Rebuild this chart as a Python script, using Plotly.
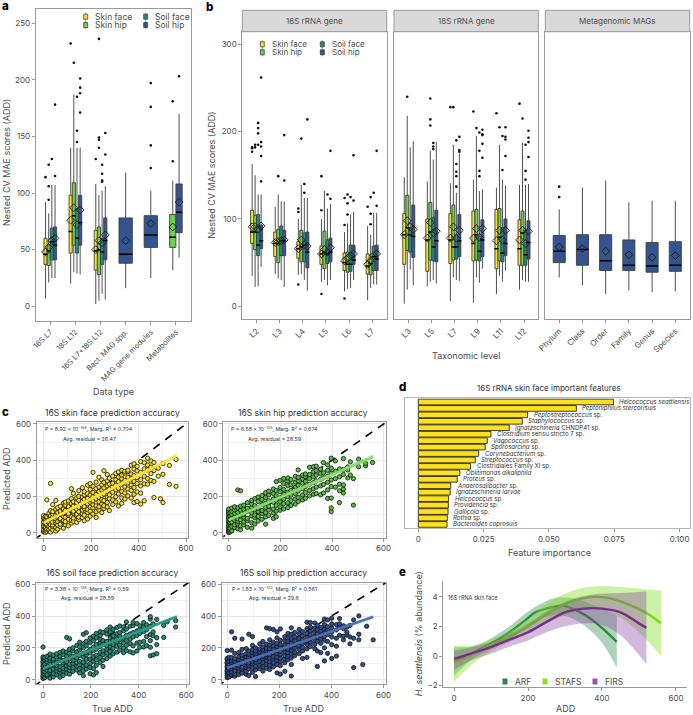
import plotly.graph_objects as go

W, H = 693, 715
FONT = "Inter"
GREY = "#4d4d4d"
FRAME = "#9a9a9a"
C_FACE, C_HIP, C_SFACE, C_SHIP = "#fde11f", "#6fcf4e", "#1f8f78", "#34548f"

# ---------- panel a ----------
a_labels = ["16S L7", "18S L12", "16S L7+18S L12", "Bact. MAG spp.", "MAG gene modules", "Metabolites"]
a_face_q1 = [37, 47, 32]; a_face_med = [46, 66, 49]; a_face_q3 = [60, 98, 67]
a_face_lo = [7, 20, 2]; a_face_hi = [92, 140, 108]; a_face_mean = [48, 76, 50]
a_face_out = [[114], [232], [130]]
a_hip_q1 = [36, 54, 28]; a_hip_med = [49, 80, 50]; a_hip_q3 = [54, 109, 70]
a_hip_lo = [21, 30, 5]; a_hip_hi = [82, 187, 98]; a_hip_mean = [52, 87, 58]
a_hip_out = [[94, 106, 125], [215], [140, 147, 149, 236]]
a_sface_q1 = [41, 47, 37]; a_sface_med = [57, 60, 48]; a_sface_q3 = [69, 86, 60]
a_sface_lo = [25, 29, 11]; a_sface_hi = [107, 140, 102]; a_sface_mean = [58, 72, 56]
a_sface_out = [[130], [145, 155, 185], [110, 111, 117, 125]]
a_ship_q1 = [41, 54, 41]; a_ship_med = [54, 74, 58]; a_ship_q3 = [70, 98, 78]
a_ship_lo = [25, 28, 6]; a_ship_hi = [107, 140, 106]; a_ship_mean = [60, 85, 63]
a_ship_out = [[115, 178], [171, 188, 193, 201], [134, 153]]
a_single_q1 = [38, 52, 65]; a_single_med = [46, 63, 83]; a_single_q3 = [78, 80, 108]
a_single_lo = [16, 25, 43]; a_single_hi = [118, 102, 170]; a_single_mean = [58, 73, 92]
a_single_out = [[], [122, 142, 176, 197], [203]]
a_met_q1 = [52]; a_met_med = [61]; a_met_q3 = [81]; a_met_lo = [32]; a_met_hi = [111]
a_met_mean = [70]; a_met_out = [[128, 181]]

# ---------- panel b, 16S rRNA gene ----------
b16_labels = ["L2", "L3", "L4", "L5", "L6", "L7"]
b16_face_q1 = [72, 57, 55, 48, 41, 37]; b16_face_med = [85, 72, 66, 60, 50, 46]; b16_face_q3 = [110, 85, 74, 69, 61, 60]
b16_face_lo = [35, 37, 36, 28, 17, 7]; b16_face_hi = [163, 114, 100, 100, 85, 92]; b16_face_mean = [91, 73, 66, 60, 52, 48]
b16_face_out = [[177, 181, 182], [], [25, 108, 112], [14, 110, 149], [9, 93, 124], [114]]
b16_hip_q1 = [65, 50, 51, 43, 39, 36]; b16_hip_med = [85, 72, 68, 62, 48, 49]; b16_hip_q3 = [104, 88, 87, 86, 62, 54]
b16_hip_lo = [22, 32, 37, 30, 20, 21]; b16_hip_hi = [150, 128, 139, 132, 95, 82]; b16_hip_mean = [91, 74, 76, 65, 55, 52]
b16_hip_out = [[182, 185], [149], [192], [], [105, 118, 128], [94, 106, 125]]
b16_sface_q1 = [58, 58, 51, 49, 40, 41]; b16_sface_med = [70, 75, 70, 60, 48, 57]; b16_sface_q3 = [105, 92, 84, 76, 70, 69]
b16_sface_lo = [23, 30, 30, 24, 21, 25]; b16_sface_hi = [128, 120, 124, 112, 105, 107]; b16_sface_mean = [88, 75, 70, 62, 58, 58]
b16_sface_out = [[185, 198, 204, 210], [], [130, 140], [128], [125], [130]]
b16_ship_q1 = [66, 58, 44, 51, 48, 41]; b16_ship_med = [75, 75, 62, 62, 53, 54]; b16_ship_q3 = [93, 87, 85, 78, 70, 70]
b16_ship_lo = [45, 22, 18, 30, 30, 25]; b16_ship_hi = [128, 120, 124, 117, 108, 107]; b16_ship_mean = [92, 76, 69, 67, 60, 60]
b16_ship_out = [[143, 172, 183, 188, 262], [144, 196], [214], [123, 178], [121, 173], [115, 178]]

# ---------- panel b, 18S rRNA gene ----------
b18_labels = ["L3", "L5", "L7", "L9", "L11", "L12"]
b18_face_q1 = [48, 40, 49, 52, 43, 47]; b18_face_med = [82, 76, 76, 72, 66, 66]; b18_face_q3 = [106, 100, 106, 109, 111, 99]
b18_face_lo = [3, 23, 6, 4, 14, 19]; b18_face_hi = [148, 143, 141, 145, 136, 139]; b18_face_mean = [82, 78, 78, 78, 75, 76]
b18_face_out = [[], [], [228], [223], [221], [232]]
b18_hip_q1 = [64, 53, 53, 53, 52, 47]; b18_hip_med = [90, 85, 68, 82, 79, 84]; b18_hip_q3 = [127, 119, 116, 111, 112, 109]
b18_hip_lo = [19, 28, 33, 33, 35, 30]; b18_hip_hi = [218, 178, 185, 195, 185, 187]; b18_hip_mean = [98, 96, 91, 89, 87, 87]
b18_hip_out = [[240], [207, 214, 238], [228], [204], [205], [215]]
b18_sface_q1 = [62, 52, 54, 52, 51, 47]; b18_sface_med = [82, 68, 68, 63, 61, 59]; b18_sface_q3 = [90, 102, 82, 80, 90, 87]
b18_sface_lo = [42, 30, 30, 27, 28, 28]; b18_sface_hi = [182, 168, 130, 132, 145, 139]; b18_sface_mean = [91, 84, 78, 79, 76, 72]
b18_sface_out = [[], [180, 183, 187], [137, 149, 154, 163, 190], [149, 155, 178, 199], [156, 195], [145, 155, 185]]
b18_ship_q1 = [56, 51, 57, 57, 58, 54]; b18_ship_med = [80, 75, 75, 76, 72, 73]; b18_ship_q3 = [116, 110, 105, 99, 100, 98]
b18_ship_lo = [24, 26, 29, 43, 41, 28]; b18_ship_hi = [189, 188, 175, 134, 138, 140]; b18_ship_mean = [88, 86, 87, 89, 87, 86]
b18_ship_out = [[], [], [177, 179, 194], [170, 186, 196, 197, 202], [172, 191, 194, 205], [171, 188, 193, 201]]

# ---------- panel b, Metagenomic MAGs ----------
mag_labels = ["Phylum", "Class", "Order", "Family", "Genus", "Species"]
mag_q1 = [50, 47, 41, 41, 39, 40]; mag_med = [63, 65, 52, 47, 46, 47]; mag_q3 = [81, 82, 82, 76, 73, 74]
mag_lo = [33, 24, 14, 18, 16, 17]; mag_hi = [111, 136, 144, 119, 121, 121]; mag_mean = [68, 66, 63, 59, 56, 58]
mag_out = [[125, 137], [], [], [], [], []]

# ---------- panel c (true ADD columns, predicted ADD per column) ----------
c1_true = [0,7,13,22,29,38,51,59,70,83,91,104,117,125,139,148,163,171,185,196,208,221,233,245,254,268,277,291,304,315,329,342,355,369,381,394,409,424,438,452,465,483,492,503,530,558]
c1_pred = [[4,9,17,31,38,52,61,77,84,95],[2,14,26,33,49,66,71,90],[7,20,41,47,63,80,88,181],[11,18,36,54,59,73,99,107],[3,25,44,68,79,94,121,272],[15,34,42,58,87,103,116,155],[9,28,53,65,76,97,129,178],[20,41,62,83,92,111,138],[33,47,71,78,102,119,146],[25,58,66,90,108,127,131,163],[44,61,85,113,122,152,169],[38,74,96,105,137,143,175],[52,69,88,124,133,161,188,243],[63,81,109,118,147,171,217],[57,92,101,129,156,166,192],[72,86,115,140,178,201,232],[83,106,125,151,173,197,248],[66,97,134,144,184,209,226],[76,112,128,159,190,215,262],[91,119,141,168,181,207,239,271],[103,137,154,176,199,221,256,333],[84,116,148,186,211,243,279],[125,143,171,194,227,252,306],[111,158,182,205,236,264,291],[133,149,177,213,247,278,342],[142,167,196,229,258,285,321],[122,188,209,241,268,301],[156,181,223,254,273,312],[170,199,237,262,293,327],[147,214,245,281,307,335],[162,192,228,268,298,318,344],[186,219,252,289,329,339],[203,241,274,306,337,345],[191,233,263,296,323,373],[166,212,249,283,315,351,380],[172,225,271,304,341,366],[158,218,258,292,333,392],[176,269,311,352,386],[268,299,347,373,411],[288,326,362,396],[194,283,343,387],[312,356],[187],[166,322,381],[266,371],[256,404]]
c2_true = [0,5,12,23,35,46,58,72,89,101,114,129,143,155,173,184,199,213,229,241,258,269,286,297,313,328,339,356,367,383,397,413,429,444,461,471,483,503,530,557]
c2_pred = [[1,6,13,19,27,36,41,52,60,67,79,85,96,104,113,121,131],[4,16,24,47,56,73,91,109],[10,33,58,82,99,117,136],[28,44,69,88,107,126,143],[21,49,63,77,112,137,236],[17,38,71,94,124,147,231],[43,59,86,101,129,152],[30,66,79,118,135,166],[25,55,92,109,141,158,178],[48,83,97,127,149,188],[64,90,116,134,172,197],[74,105,122,155,183,205],[47,87,111,139,163,194,221],[96,125,146,176,209,229],[79,108,131,167,186,216,241],[88,119,151,179,204,233,282],[124,143,171,192,226,249,289],[131,160,185,211,238,271,299],[139,165,198,224,259,285,302],[150,177,207,233,264,293],[158,186,216,251,279,311],[172,195,229,262,287,306,346],[181,208,244,273,296,318],[190,221,255,283,309,324],[203,233,268,299,321,361],[212,242,276,308,337,364],[216,251,286,318,343,367],[209,258,295,327,351],[219,266,303,331,386],[189,236,278,312,344,374],[117,137,191,254,291,328,356,411],[251,298,339,396],[166,231,267,308,352],[219,241,264,321,349,409],[302,346,363],[318,391],[152,298],[364,406],[369,382],[387]]
c3_true = [0,7,17,29,43,57,71,84,99,111,125,141,153,169,181,197,211,223,239,251,267,281,293,309,321,337,349,365,377,393,405,421,433,449,461,476,505,520,555]
c3_pred = [[9,21,28,43,57,66,83,92,108,117,133,144,206],[14,37,52,71,99,126,139],[24,33,61,79,112,129,148],[11,45,58,87,103,121,136,162],[19,39,68,96,118,131,155],[31,54,74,91,109,143,163],[17,47,63,83,127,149,172],[28,56,72,105,122,158,181],[42,67,88,114,137,151,174,266],[36,60,79,98,133,167,192,257],[53,76,102,124,146,183,201],[62,89,108,139,159,176,216],[44,70,96,117,153,187,207,236],[27,57,86,109,143,165,202,226,286],[68,94,128,156,173,214,241,296],[39,78,103,131,169,191,233,263],[31,71,116,145,183,205,247,274],[46,91,126,154,193,221,263,291],[109,141,171,209,232,254,279,302],[84,123,158,182,224,246,297],[134,166,194,213,241,287,314],[149,178,206,231,262,301,331],[163,197,223,249,276,316],[174,211,237,259,289,328],[187,219,251,274,297,338],[171,201,233,263,308,332],[184,216,247,279,319,363],[176,227,256,288,336],[169,213,269,296,341,361],[181,231,279,307,353],[204,236,291,318,339],[206,241,302,331,359],[214,271,314,346],[151,204,246,284,336,381,396],[156,276,301,351],[164,221,264,379],[266,341],[364],[331,371]]
c4_true = [0,7,17,29,45,57,73,83,97,109,125,137,151,163,177,191,204,221,233,246,259,276,289,306,319,336,346,359,373,385,401,419,431,446,459,471,485,505,520,535,560]
c4_pred = [[14,26,41,53,62,77,86,103,111,126,135,184],[19,44,68,97,116,141],[31,49,72,84,107,121,139,186,301],[23,38,58,81,95,117,133,166,261],[33,56,73,88,112,128,146,171],[43,66,79,103,119,137,156,191,256],[35,54,76,94,109,127,147,164,196],[27,69,92,106,129,143,161,181,286],[47,77,101,114,136,153,172,189,216,271],[21,63,86,111,125,146,163,182,201],[71,94,117,138,156,174,193,226],[55,84,108,133,147,168,187,207,241],[73,102,121,144,159,183,199,224,326],[65,93,113,137,157,177,197,219,251,321],[81,109,132,148,171,192,213,237,316],[44,97,124,142,166,183,208,229,263,301],[36,89,116,136,161,179,202,223,249,319],[54,107,131,153,177,196,218,246,271],[126,149,173,193,217,241,263,291],[24,96,137,163,187,207,233,257,286,326],[151,174,201,221,247,269,297],[164,191,213,239,261,289,316],[134,181,203,229,253,277,303],[141,194,222,243,269,291,321,361],[209,236,257,283,307,331,359],[196,224,251,273,299,323,356],[84,181,241,267,289,315,341],[171,229,259,281,307,329],[119,201,249,273,297,319,346,381],[166,241,284,311,334,376],[134,221,269,299,326,351,386],[149,211,261,313,346],[279,331,351,384],[251,274,321,339],[281,299,331],[226,269,341],[77,261,376],[251,286,401],[96],[336],[251]]
fit_x = [0, 560]
c1_fit = [55, 423]; c1_fit_up = [63, 436]; c1_fit_lo = [47, 410]
c2_fit = [70, 420]; c2_fit_up = [78, 433]; c2_fit_lo = [62, 407]
c3_fit = [72, 397]; c3_fit_up = [80, 407]; c3_fit_lo = [64, 387]
c4_fit = [75, 395]; c4_fit_up = [83, 405]; c4_fit_lo = [67, 385]
diag = [-40, 620]

# ---------- panel d ----------
d_names = ["<i>Helcococcus seattlensis</i>", "<i>Peptoniphilus stercorisuis</i>", "<i>Peptostreptococcus</i> sp.",
           "<i>Staphylococcus</i> sp.", "<i>Ignatzschineria</i> CHNDP41 sp.", "<i>Clostridium</i> sensu stricto 7 sp.",
           "<i>Vagococcus</i> sp.", "<i>Sporosarcina</i> sp.", "<i>Corynebacterium</i> sp.", "<i>Streptococcus</i> sp.",
           "Clostridiales Family XI sp.", "<i>Oblitimonas alkaliphila</i>", "<i>Proteus</i> sp.", "<i>Anaerosalibacter</i> sp.",
           "<i>Ignatzschineria larvae</i>", "<i>Helcococcus</i> sp.", "<i>Providencia</i> sp.", "<i>Gallicola</i> sp.",
           "<i>Rothia</i> sp.", "<i>Bacteroides coprosuis</i>"]
d_values = [.0747, .0605, .0418, .0398, .0348, .0278, .0264, .0256, .0231, .0218, .02, .0159, .0149, .0124, .0122, .0116, .0115, .0114, .0111, .011]

# ---------- panel e ----------
arf_x = [0, 50, 100, 150, 190, 220, 250, 290, 330, 370, 400, 440]
arf_y = [-.4, .2, .85, 1.6, 2.35, 2.95, 3.2, 3.4, 3.1, 2.5, 1.9, .95]
arf_bx = [0, 50, 100, 150, 200, 240, 280, 330, 380, 440]
arf_up = [.6, .65, 1.2, 2.0, 3.0, 3.6, 3.95, 3.85, 3.4, 2.75]
arf_lx = [0, 50, 100, 150, 200, 250, 300, 350, 400, 440]
arf_lo = [-1.35, -.2, .45, 1.2, 2.0, 2.65, 2.7, 2.1, .9, -.8]
stafs_x = [0, 50, 100, 150, 200, 250, 300, 350, 380, 420, 470, 520, 560]
stafs_y = [-.45, .1, .75, 1.3, 2.0, 2.8, 3.5, 3.9, 4.0, 3.9, 3.5, 2.9, 2.2]
stafs_bx = [0, 50, 100, 150, 200, 250, 300, 350, 400, 450, 500, 560]
stafs_up = [.7, .7, 1.1, 1.65, 2.5, 3.5, 4.2, 4.6, 4.7, 4.65, 4.55, 4.4]
stafs_lo = [-1.75, -.55, .3, .95, 1.5, 2.2, 2.75, 3.1, 3.15, 2.6, 1.6, 0]
firs_x = [0, 50, 100, 150, 200, 250, 300, 350, 400, 450, 500, 520]
firs_y = [-.2, .2, .6, 1.1, 1.6, 2.3, 2.95, 3.2, 3.2, 2.95, 2.2, 1.9]
firs_bx = [0, 50, 100, 150, 200, 250, 300, 350, 400, 450, 520]
firs_up = [.35, .6, .95, 1.5, 2.2, 3.0, 3.65, 4.05, 4.2, 4.25, 4.35]
firs_lo = [-.95, -.25, .15, .65, 1.05, 1.6, 2.0, 2.2, 2.1, 1.4, -.55]

fig = go.Figure()
layout_axes = {}
annots, shapes = [], []


def add_axis(n, x0, x1, y0, y1, xr, yr, xkw=None, ykw=None):
    suffix = "" if n == 1 else str(n)
    base = dict(range=None, showgrid=False, zeroline=False, showline=True, linecolor=FRAME, linewidth=1,
                mirror=True, ticks="outside", ticklen=3, tickwidth=1, tickcolor=FRAME,
                tickfont=dict(family=FONT, size=8, color=GREY))
    xa = dict(base, domain=[x0 / W, x1 / W], range=xr, anchor="y" + suffix)
    ya = dict(base, domain=[1 - y1 / H, 1 - y0 / H], range=yr, anchor="x" + suffix)
    xa.update(xkw or {})
    ya.update(ykw or {})
    layout_axes["xaxis" + suffix] = xa
    layout_axes["yaxis" + suffix] = ya
    return "x" + suffix, "y" + suffix


def text(s, x, y, size=9, color=GREY, angle=0, anchor="center", weight=None):
    annots.append(dict(text=s, x=x / W, y=1 - y / H, xref="paper", yref="paper", showarrow=False,
                       xanchor=anchor, yanchor="middle", textangle=angle,
                       font=dict(family=FONT, size=size, color=color, weight=weight)))


def boxes(ax, pos, q1, med, q3, lo, hi, mean, outs, color, width, px):
    xa, ya = ax
    fig.add_trace(go.Box(x=pos, q1=q1, median=med, q3=q3, lowerfence=lo, upperfence=hi, width=width,
                         whiskerwidth=0, fillcolor=color, line=dict(color="#3d3d3d", width=0.9),
                         boxpoints=False, xaxis=xa, yaxis=ya, showlegend=False, hoverinfo="skip"))
    fig.add_trace(go.Scatter(x=pos, y=med, mode="markers", xaxis=xa, yaxis=ya, showlegend=False, hoverinfo="skip",
                             marker=dict(symbol="line-ew", color="black", size=max(width * px / 1.4, 3), line=dict(color="black", width=1.5))))
    fig.add_trace(go.Scatter(x=pos, y=mean, mode="markers", xaxis=xa, yaxis=ya, showlegend=False, hoverinfo="skip",
                             marker=dict(symbol="diamond-open", color="#1a1a1a", size=6, line=dict(color="#1a1a1a", width=0.9))))
    ox = [p for p, o in zip(pos, outs) for _ in o]
    oy = [v for o in outs for v in o]
    if ox:
        fig.add_trace(go.Scatter(x=ox, y=oy, mode="markers", xaxis=xa, yaxis=ya, showlegend=False, hoverinfo="skip",
                                 marker=dict(color="#111111", size=2.6)))


def key(x, y, color):
    shapes.append(dict(type="line", xref="paper", yref="paper", x0=x / W, x1=x / W, y0=1 - (y - 4) / H, y1=1 - (y + 4) / H,
                       line=dict(color="#555555", width=0.7)))
    shapes.append(dict(type="rect", xref="paper", yref="paper", x0=(x - 2) / W, x1=(x + 2) / W, y0=1 - (y - 2.5) / H, y1=1 - (y + 2.5) / H,
                       fillcolor=color, line=dict(color="#333333", width=0.7)))


# --- panel a
ax_a = add_axis(1, 35.7, 191, 9, 320.7, [-0.58, 5.6], [-12.7, 262.4],
                dict(tickmode="array", tickvals=list(range(6)), ticktext=a_labels, tickangle=-45,
                     tickfont=dict(family=FONT, size=7.5, color=GREY)),
                dict(tickmode="array", tickvals=[0, 50, 100, 150, 200, 250]))
A_PX = 25.2
groups3 = [0, 1, 2]
sp = 0.126
boxes(ax_a, [g - 1.5 * sp for g in groups3], a_face_q1, a_face_med, a_face_q3, a_face_lo, a_face_hi, a_face_mean, a_face_out, C_FACE, sp, A_PX)
boxes(ax_a, [g - .5 * sp for g in groups3], a_hip_q1, a_hip_med, a_hip_q3, a_hip_lo, a_hip_hi, a_hip_mean, a_hip_out, C_HIP, sp, A_PX)
boxes(ax_a, [g + .5 * sp for g in groups3], a_sface_q1, a_sface_med, a_sface_q3, a_sface_lo, a_sface_hi, a_sface_mean, a_sface_out, C_SFACE, sp, A_PX)
boxes(ax_a, [g + 1.5 * sp for g in groups3], a_ship_q1, a_ship_med, a_ship_q3, a_ship_lo, a_ship_hi, a_ship_mean, a_ship_out, C_SHIP, sp, A_PX)
boxes(ax_a, [3, 4], a_single_q1[:2], a_single_med[:2], a_single_q3[:2], a_single_lo[:2], a_single_hi[:2], a_single_mean[:2], a_single_out[:2], C_SHIP, 0.53, A_PX)
boxes(ax_a, [5 - .125], a_met_q1, a_met_med, a_met_q3, a_met_lo, a_met_hi, a_met_mean, a_met_out, C_HIP, 0.25, A_PX)
boxes(ax_a, [5 + .125], a_single_q1[2:], a_single_med[2:], a_single_q3[2:], a_single_lo[2:], a_single_hi[2:], a_single_mean[2:], a_single_out[2:], C_SHIP, 0.25, A_PX)
for (kx, tx, ky, c, s) in [(85.7, 93.3, 16.7, C_FACE, "Skin face"), (85.7, 93.3, 25, C_HIP, "Skin hip"),
                           (145.7, 153.3, 16.7, C_SFACE, "Soil face"), (145.7, 153.3, 25, C_SHIP, "Soil hip")]:
    key(kx, ky, c)
    text(s, tx, ky, size=8.5, anchor="left")
text("Nested CV MAE scores (ADD)", 6, 163, size=9, angle=-90)
text("Data type", 113, 391, size=9)

# --- panel b
b_y = [-14.9, 314.4]
ykw = dict(tickmode="array", tickvals=[0, 100, 200, 300])
nolab = dict(showticklabels=False, ticks="")
ax_b1 = add_axis(2, 242.3, 386.7, 31.7, 319.3, [-0.62, 5.63], b_y,
                 dict(tickmode="array", tickvals=list(range(6)), ticktext=b16_labels, tickangle=-45), ykw)
ax_b2 = add_axis(3, 394, 538.3, 31.7, 319.3, [-0.64, 5.62], b_y,
                 dict(tickmode="array", tickvals=list(range(6)), ticktext=b18_labels, tickangle=-45), nolab)
ax_b3 = add_axis(4, 545.3, 689.7, 31.7, 319.3, [-0.6, 5.62], b_y,
                 dict(tickmode="array", tickvals=list(range(6)), ticktext=mag_labels, tickangle=-45), nolab)
B_PX = 23.1
cats = list(range(6))
sb = 0.13
for ax, d in [(ax_b1, (b16_face_q1, b16_face_med, b16_face_q3, b16_face_lo, b16_face_hi, b16_face_mean, b16_face_out,
                       b16_hip_q1, b16_hip_med, b16_hip_q3, b16_hip_lo, b16_hip_hi, b16_hip_mean, b16_hip_out,
                       b16_sface_q1, b16_sface_med, b16_sface_q3, b16_sface_lo, b16_sface_hi, b16_sface_mean, b16_sface_out,
                       b16_ship_q1, b16_ship_med, b16_ship_q3, b16_ship_lo, b16_ship_hi, b16_ship_mean, b16_ship_out)),
              (ax_b2, (b18_face_q1, b18_face_med, b18_face_q3, b18_face_lo, b18_face_hi, b18_face_mean, b18_face_out,
                       b18_hip_q1, b18_hip_med, b18_hip_q3, b18_hip_lo, b18_hip_hi, b18_hip_mean, b18_hip_out,
                       b18_sface_q1, b18_sface_med, b18_sface_q3, b18_sface_lo, b18_sface_hi, b18_sface_mean, b18_sface_out,
                       b18_ship_q1, b18_ship_med, b18_ship_q3, b18_ship_lo, b18_ship_hi, b18_ship_mean, b18_ship_out))]:
    for i, (off, col) in enumerate([(-1.5, C_FACE), (-.5, C_HIP), (.5, C_SFACE), (1.5, C_SHIP)]):
        boxes(ax, [c + off * sb for c in cats], *d[i * 7:i * 7 + 7], col, sb, B_PX)
boxes(ax_b3, cats, mag_q1, mag_med, mag_q3, mag_lo, mag_hi, mag_mean, mag_out, C_SHIP, 0.52, B_PX)
for x0, x1, s in [(242.3, 386.7, "16S rRNA gene"), (394, 538.3, "18S rRNA gene"), (545.3, 689.7, "Metagenomic MAGs")]:
    shapes.append(dict(type="rect", xref="paper", yref="paper", x0=x0 / W, x1=x1 / W, y0=1 - 31.7 / H, y1=1 - 10.3 / H,
                       fillcolor="#d9d9d9", line=dict(color=FRAME, width=1)))
    text(s, (x0 + x1) / 2, 21, size=8)
for (kx, tx, ky, c, s) in [(262.3, 270, 44.3, C_FACE, "Skin face"), (262.3, 270, 52.3, C_HIP, "Skin hip"),
                           (322.3, 330, 44.3, C_SFACE, "Soil face"), (322.3, 330, 52.3, C_SHIP, "Soil hip")]:
    key(kx, ky, c)
    text(s, tx, ky, size=8, anchor="left")
text("Nested CV MAE scores (ADD)", 210.7, 175, size=9, angle=-90)
text("Taxonomic level", 466, 355.7, size=9)

# --- panel c
grid = dict(showgrid=True, gridcolor="#e6e6e6", gridwidth=1, tickmode="array", tickvals=[0, 200, 400, 600],
            minor=dict(showgrid=True, gridcolor="#f1f1f1", gridwidth=1, tickmode="array", tickvals=[100, 300, 500], ticks=""))
c_specs = [
    (5, 36.7, 188.3, 422.3, 537.7, [-29.5, 609.7], [-27.6, 609], c1_true, c1_pred, c1_fit, c1_fit_up, c1_fit_lo, C_FACE, "#f7e33b"),
    (6, 223.3, 385.7, 422.3, 537.7, [-21, 608], [-27.6, 609], c2_true, c2_pred, c2_fit, c2_fit_up, c2_fit_lo, "#55c03c", "#86dc6a"),
    (7, 36, 188.7, 582.7, 684.3, [-29.5, 609.7], [-27.6, 609], c3_true, c3_pred, c3_fit, c3_fit_up, c3_fit_lo, C_SFACE, "#2a9d86"),
    (8, 221.7, 385.7, 582.7, 684.3, [-21, 608], [-27.6, 609], c4_true, c4_pred, c4_fit, c4_fit_up, c4_fit_lo, "#2f4f8f", "#4c70b5"),
]
for n, x0, x1, y0, y1, xr, yr, tx, py, fit, up, lo, col, fitcol in c_specs:
    xa, ya = add_axis(n, x0, x1, y0, y1, xr, yr, dict(grid), dict(grid))
    fig.add_trace(go.Scatter(x=diag, y=diag, mode="lines", xaxis=xa, yaxis=ya, showlegend=False, hoverinfo="skip",
                             line=dict(color="black", width=1.6, dash="8px,7px")))
    px_ = [t for t, ys in zip(tx, py) for _ in ys]
    py_ = [v for ys in py for v in ys]
    fig.add_trace(go.Scatter(x=px_, y=py_, mode="markers", xaxis=xa, yaxis=ya, showlegend=False, hoverinfo="skip",
                             marker=dict(color=col, size=4.3, line=dict(color="#111111", width=0.8))))
    fig.add_trace(go.Scatter(x=fit_x + fit_x[::-1], y=up + lo[::-1], mode="lines", fill="toself", fillcolor=fitcol,
                             opacity=0.45, line=dict(width=0), xaxis=xa, yaxis=ya, showlegend=False, hoverinfo="skip"))
    fig.add_trace(go.Scatter(x=fit_x, y=fit, mode="lines", xaxis=xa, yaxis=ya, showlegend=False, hoverinfo="skip",
                             line=dict(color=fitcol, width=2.4)))
text("16S skin face prediction accuracy", 112.7, 412.7, size=8.5, color="#333333")
text("16S skin hip prediction accuracy", 303, 412.7, size=8.5, color="#333333")
text("16S soil face prediction accuracy", 112.7, 572.7, size=8.5, color="#333333")
text("16S soil hip prediction accuracy", 303, 572.7, size=8.5, color="#333333")
for sx, sy, p, a in [(89, 428.7, "P = 8.92 × 10<sup>−164</sup>, Marg. R<sup>2</sup> = 0.704", "Avg. residual = 26.47"),
                     (274, 428.7, "P = 6.58 × 10<sup>−135</sup>, Marg. R<sup>2</sup> = 0.674", "Avg. residual = 28.59"),
                     (87, 588.3, "P = 3.38 × 10<sup>−126</sup>, Marg. R<sup>2</sup> = 0.59", "Avg. residual = 28.59"),
                     (274, 588.3, "P = 1.83 × 10<sup>−123</sup>, Marg. R<sup>2</sup> = 0.561", "Avg. residual = 29.6")]:
    text(p, sx, sy, size=5.3, color="#333333")
    text(a, sx, sy + 10, size=5.3, color="#333333")
text("Predicted ADD", 6, 479, size=9, angle=-90)
text("Predicted ADD", 6, 634, size=9, angle=-90)
text("True ADD", 112.7, 708, size=9)
text("True ADD", 303, 708, size=9)

# --- panel d
ax_d = add_axis(9, 405, 690, 398.3, 528.3, [-0.0051, 0.104], [19.6, -0.57],
                dict(tickmode="array", tickvals=[0, .025, .05, .075, .1], ticktext=["0", "0.025", "0.050", "0.075", "0.100"], linecolor="#b5b5b5"),
                dict(showticklabels=False, ticks="", tickmode="array", tickvals=[], linecolor="#b5b5b5"))
d_pos = list(range(len(d_values)))
fig.add_trace(go.Bar(x=d_values, y=d_pos, orientation="h", width=0.88, xaxis=ax_d[0], yaxis=ax_d[1],
                     marker=dict(color="#fde11f", line=dict(color="#111111", width=0.8)),
                     showlegend=False, hoverinfo="skip"))
for name, val, pos in zip(d_names, d_values, d_pos):
    annots.append(dict(text=name, x=val, y=pos, xref=ax_d[0], yref=ax_d[1], showarrow=False, xanchor="left", xshift=4,
                       yanchor="middle", font=dict(family=FONT, size=6.1, color="#333333")))
text("16S rRNA skin face important features", 549, 388.3, size=8, color="#333333")
text("Feature importance", 549, 552, size=9)

# --- panel e
ax_e = add_axis(10, 443.3, 686.7, 580.7, 687, [-29, 629], [-2.09, 5.08],
                dict(mirror=False, tickmode="array", tickvals=[0, 200, 400, 600]),
                dict(mirror=False, tickmode="array", tickvals=[-2, 0, 2, 4], ticktext=["−2", "0", "2", "4"]))
for bx, up, lx, lo, cx, cy, band, line in [
        (arf_bx, arf_up, arf_lx, arf_lo, arf_x, arf_y, "rgba(46,139,62,0.38)", "#2a8a3c"),
        (stafs_bx, stafs_up, stafs_bx, stafs_lo, stafs_x, stafs_y, "rgba(130,225,40,0.42)", "#74dd0a"),
        (firs_bx, firs_up, firs_bx, firs_lo, firs_x, firs_y, "rgba(130,60,160,0.36)", "#7a2d8e")]:
    fig.add_trace(go.Scatter(x=lx, y=lo, mode="lines", line=dict(width=0, shape="spline"),
                             xaxis=ax_e[0], yaxis=ax_e[1], showlegend=False, hoverinfo="skip"))
    fig.add_trace(go.Scatter(x=bx, y=up, mode="lines", fill="tonexty", fillcolor=band, line=dict(width=0, shape="spline"),
                             xaxis=ax_e[0], yaxis=ax_e[1], showlegend=False, hoverinfo="skip"))
    fig.add_trace(go.Scatter(x=cx, y=cy, mode="lines", line=dict(color=line, width=2.4, shape="spline"),
                             xaxis=ax_e[0], yaxis=ax_e[1], showlegend=False, hoverinfo="skip"))
for kx, tx, c, s in [(505, 513, "#2a8a3c", "ARF"), (545, 553, "#86e21c", "STAFS"), (595, 603, "#9a55ad", "FIRS")]:
    shapes.append(dict(type="rect", xref="paper", yref="paper", x0=(kx - 2.5) / W, x1=(kx + 2.5) / W, y0=1 - 678.5 / H, y1=1 - 684.5 / H,
                       fillcolor=c, line=dict(width=0)))
    text(s, tx, 681.7, size=8.5, anchor="left")
text("16S rRNA skin face", 472.7, 597.3, size=5.5, color="#333333")
text("<i>H. seattlensis</i> (% abundance)", 418.3, 634, size=9, angle=-90)
text("ADD", 565, 708, size=9)

# --- panel letters
for s, x, y in [("a", 5, 6), ("b", 209, 7), ("c", 5, 412), ("d", 402, 387), ("e", 402, 572)]:
    text(s, x, y, size=11.5, color="black", weight=800)

fig.update_layout(width=W, height=H, margin=dict(l=0, r=0, t=0, b=0, pad=0, autoexpand=False), paper_bgcolor="white", plot_bgcolor="white",
                  boxmode="overlay", barmode="overlay", showlegend=False, annotations=annots, shapes=shapes,
                  font=dict(family=FONT, color=GREY), **layout_axes)
fig.write_html("out.html", config=dict(displayModeBar=False), post_script="document.body.style.margin='0';")
